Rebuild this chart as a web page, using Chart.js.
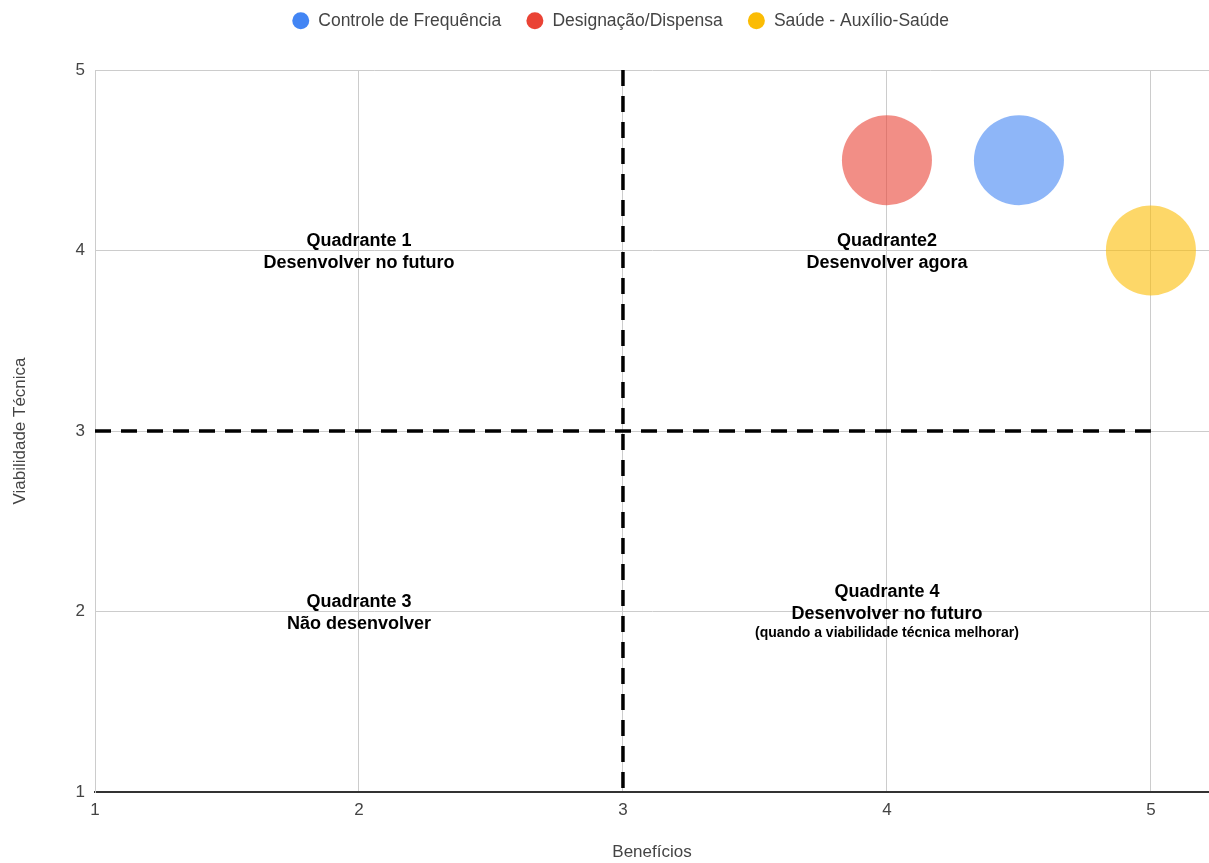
<!DOCTYPE html>
<html>
<head>
<meta charset="utf-8">
<script src="https://cdn.jsdelivr.net/npm/chart.js@4.4.1/dist/chart.umd.min.js"></script>
<style>
  body { margin: 0; background: #fff; }
  #wrap { width: 1209px; height: 863px; }
</style>
</head>
<body>
<div id="wrap"><canvas id="myChart"></canvas></div>
<script>
// dados
var seriesNames = ["Controle de Frequência", "Designação/Dispensa", "Saúde - Auxílio-Saúde"];
var seriesColors = ["#4285f4", "#ea4335", "#fbbc04"];
var bubbleAlpha = 0.6;
var benefitValues = [4.5, 4, 5];        // Benefícios (x)
var viabilityValues = [4.5, 4.5, 4];    // Viabilidade Técnica (y)
var bubbleSizes = [1, 1, 1];            // all the same size

var xTicks = [1, 2, 3, 4, 5];
var yTicks = [1, 2, 3, 4, 5];
var dividerX = 3; // vertical dashed line
var dividerY = 3; // horizontal dashed line

var quadrantTitles = ["Quadrante 1", "Quadrante2", "Quadrante 3", "Quadrante 4"];
var quadrantTexts = ["Desenvolver no futuro", "Desenvolver agora", "Não desenvolver", "Desenvolver no futuro"];
var quadrantNotes = ["", "", "", "(quando a viabilidade técnica melhorar)"];
var quadrantX = [2, 4, 2, 4];
var quadrantY = [4, 4, 2, 2];

var FONT = "'Liberation Sans', Arial, sans-serif";
var maxRadius = 45;

function withAlpha(hex, a) {
    var n = parseInt(hex.slice(1), 16);
    return 'rgba(' + (n >> 16) + ',' + ((n >> 8) & 255) + ',' + (n & 255) + ',' + a + ')';
}

var datasets = seriesNames.map(function (name, i) {
    return {
        type: 'bubble',
        label: name,
        data: [{ x: benefitValues[i], y: viabilityValues[i], r: bubbleSizes[i] * maxRadius }],
        backgroundColor: withAlpha(seriesColors[i], bubbleAlpha),
        borderWidth: 0,
        hoverBorderWidth: 0
    };
});

// linhas tracejadas dos quadrantes
datasets.push({
    type: 'line',
    label: 'divisorX',
    data: [{ x: dividerX, y: yTicks[yTicks.length - 1] }, { x: dividerX, y: yTicks[0] }],
    borderColor: '#000',
    borderWidth: 3.5,
    borderDash: [16, 10],
    pointRadius: 0,
    fill: false
});
datasets.push({
    type: 'line',
    label: 'divisorY',
    data: [{ x: xTicks[0], y: dividerY }, { x: xTicks[xTicks.length - 1], y: dividerY }],
    borderColor: '#000',
    borderWidth: 3.5,
    borderDash: [16, 10],
    pointRadius: 0,
    fill: false
});

// textos dos quadrantes
var quadrantLabels = {
    id: 'quadrantLabels',
    afterDatasetsDraw: function (chart) {
        var ctx = chart.ctx;
        var xs = chart.scales.x, ys = chart.scales.y;
        ctx.save();
        ctx.fillStyle = '#000';
        ctx.textAlign = 'center';
        ctx.textBaseline = 'middle';
        for (var i = 0; i < quadrantTitles.length; i++) {
            var px = xs.getPixelForValue(quadrantX[i]);
            var py = ys.getPixelForValue(quadrantY[i]);
            var top = quadrantNotes[i] ? py - 19.5 : py - 9.5;
            ctx.font = "bold 18px " + FONT;
            ctx.fillText(quadrantTitles[i], px, top);
            ctx.fillText(quadrantTexts[i], px, top + 22.5);
            if (quadrantNotes[i]) {
                ctx.font = "bold 14px " + FONT;
                ctx.fillText(quadrantNotes[i], px, top + 41.5);
            }
        }
        ctx.restore();
    }
};

// espaço extra abaixo da legenda, e legenda um pouco à direita
var legendSpace = {
    id: 'legendSpace',
    beforeInit: function (chart) {
        var legend = chart.legend;
        var fit = legend.fit;
        legend.fit = function () {
            fit.call(this);
            this.height += 30.5;
        };
        var draw = legend.draw;
        legend.draw = function () {
            var c = this.ctx;
            c.save();
            c.translate(16, 0);
            draw.call(this);
            c.restore();
        };
    }
};

var ctx = document.getElementById("myChart").getContext('2d');

var myChart = new Chart(ctx, {
    type: 'bubble',
    data: { datasets: datasets },
    plugins: [quadrantLabels, legendSpace],
    options: {
        responsive: true,
        maintainAspectRatio: false,
        animation: false,
        layout: { autoPadding: false, padding: { top: -13, left: 0, right: 0, bottom: 0 } },
        plugins: {
            legend: {
                position: 'top',
                labels: {
                    usePointStyle: true,
                    pointStyle: 'circle',
                    boxHeight: 12,
                    padding: 25,
                    color: '#444',
                    font: { family: FONT, size: 17.5 },
                    filter: function (item) { return item.datasetIndex < seriesNames.length; },
                    generateLabels: function (chart) {
                        var items = Chart.defaults.plugins.legend.labels.generateLabels(chart);
                        items.forEach(function (item) {
                            if (item.datasetIndex < seriesColors.length) {
                                item.fillStyle = seriesColors[item.datasetIndex];
                                item.strokeStyle = seriesColors[item.datasetIndex];
                                item.lineWidth = 0;
                            }
                        });
                        return items;
                    }
                }
            },
            tooltip: { enabled: false }
        },
        scales: {
            x: {
                type: 'linear',
                min: 1,
                max: 5.22,
                afterFit: function (scale) { scale.height = 71; },
                ticks: {
                    stepSize: 1,
                    includeBounds: false,
                    padding: 8,
                    color: '#444',
                    font: { family: FONT, size: 17 }
                },
                grid: { color: '#cccccc', drawTicks: false },
                border: { color: '#333', width: 2 },
                title: {
                    display: true,
                    text: 'Benefícios',
                    color: '#444',
                    font: { family: FONT, size: 17 },
                    padding: { top: 4, bottom: 0 }
                }
            },
            y: {
                type: 'linear',
                min: 1,
                max: 5,
                afterFit: function (scale) { scale.width = 95; },
                ticks: {
                    stepSize: 1,
                    padding: 10,
                    color: '#444',
                    font: { family: FONT, size: 17 }
                },
                grid: { color: '#cccccc', drawTicks: false },
                border: { color: '#cccccc', width: 1 },
                title: {
                    display: true,
                    text: 'Viabilidade Técnica',
                    color: '#444',
                    font: { family: FONT, size: 17 },
                    padding: { top: 10, bottom: 4 }
                }
            }
        }
    }
});
</script>
</body>
</html>
